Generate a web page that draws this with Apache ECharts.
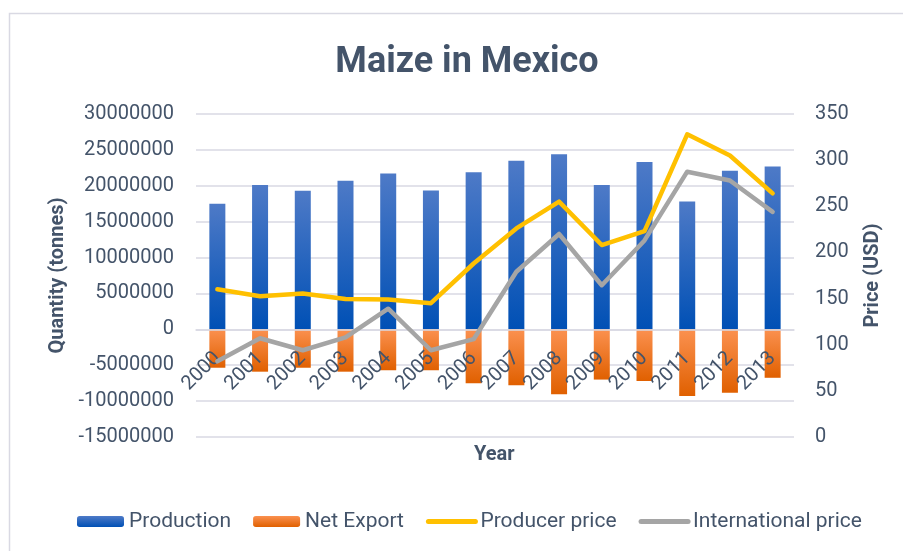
<!DOCTYPE html>
<html>
<head>
<meta charset="utf-8">
<title>Maize in Mexico</title>
<script src="https://cdn.jsdelivr.net/npm/echarts@6/dist/echarts.min.js"></script>
<style>
  html, body { margin: 0; padding: 0; background: #ffffff; }
  #chart { width: 903px; height: 551px; }
</style>
</head>
<body>
<div id="chart"></div>
<script>
// Maize production, net export (tonnes) and prices (USD) in Mexico
const years = ['2000', '2001', '2002', '2003', '2004', '2005', '2006',
               '2007', '2008', '2009', '2010', '2011', '2012', '2013'];
const production = [17500000, 20100000, 19300000, 20700000, 21700000, 19350000, 21900000,
                    23500000, 24400000, 20100000, 23300000, 17800000, 22100000, 22700000];
const netExport = [-5350000, -5900000, -5350000, -5900000, -5700000, -5700000, -7500000,
                   -7800000, -9050000, -7000000, -7200000, -9300000, -8850000, -6750000];
const producerPrice = [160, 152.5, 155.5, 149.5, 149, 145, 188,
                       226, 255, 208, 223, 328, 305, 264];
const internationalPrice = [82, 107, 94, 108, 139, 94, 106,
                            179, 220, 164.5, 213, 287.5, 278, 244];
const quantityTicks = { min: -15000000, max: 30000000, step: 5000000 };
const priceTicks = { min: 0, max: 350, step: 50 };

const FONT = 'Roboto';
const TEXT = '#44546a';
const GRID_LINE = '#d9d9e3';

const CHART_H = 551;
const GRID = { left: 196, right: 109, top: 114, bottom: 114 };
// the category axis sits on the zero line of the quantity axis
const plotH = CHART_H - GRID.top - GRID.bottom;
const zeroOffset = -plotH * (0 - quantityTicks.min) / (quantityTicks.max - quantityTicks.min);

const chart = echarts.init(document.getElementById('chart'), null, { renderer: 'canvas' });

const lineLegendItem = (name, color) => ({
  name: name,
  itemStyle: { opacity: 0 },
  lineStyle: { color: color, width: 5, cap: 'round' }
});

chart.setOption({
  animation: false,
  backgroundColor: '#ffffff',
  textStyle: { fontFamily: FONT },
  title: {
    text: 'Maize in Mexico',
    left: 462,
    textAlign: 'center',
    top: 40,
    textStyle: { fontFamily: FONT, fontSize: 36, fontWeight: 'bold', color: TEXT }
  },
  graphic: [
    {
      type: 'rect',
      shape: { x: 9.5, y: 13.5, width: 1000, height: 1000 },
      style: { fill: 'none', stroke: GRID_LINE, lineWidth: 1.5 },
      silent: true,
      z: -10
    },
    {
      type: 'text',
      left: 474,
      top: 445,
      style: { text: 'Year', font: 'bold 20px ' + FONT, fill: TEXT },
      silent: true
    }
  ],
  legend: {
    left: 77,
    top: 511,
    padding: 0,
    itemWidth: 47,
    itemHeight: 11,
    itemGap: 22,
    textStyle: { fontFamily: FONT, fontSize: 21, color: TEXT },
    data: ['Production', 'Net Export',
           lineLegendItem('Producer price', '#ffc000'),
           lineLegendItem('International price', '#a5a5a5')]
  },
  grid: { left: GRID.left, right: GRID.right, top: GRID.top, bottom: GRID.bottom, containLabel: false },
  xAxis: {
    type: 'category',
    data: years,
    offset: zeroOffset,
    z: 2,
    axisLine: { show: true, onZero: false, lineStyle: { color: GRID_LINE, width: 1.5 } },
    axisTick: { show: false },
    axisLabel: { rotate: 45, margin: 26, fontFamily: FONT, fontSize: 20, color: TEXT, interval: 0 }
  },
  yAxis: [
    {
      type: 'value',
      min: quantityTicks.min,
      max: quantityTicks.max,
      interval: quantityTicks.step,
      name: 'Quantity (tonnes)',
      nameLocation: 'middle',
      nameRotate: 90,
      nameGap: 120,
      nameTextStyle: { fontFamily: FONT, fontSize: 20, fontWeight: 'bold', color: TEXT },
      axisLine: { show: false },
      axisTick: { show: false },
      axisLabel: { margin: 22, fontFamily: FONT, fontSize: 20, color: TEXT, formatter: v => String(v) },
      splitLine: { show: true, lineStyle: { color: GRID_LINE, width: 1.5 } }
    },
    {
      type: 'value',
      position: 'right',
      min: priceTicks.min,
      max: priceTicks.max,
      interval: priceTicks.step,
      name: 'Price (USD)',
      nameLocation: 'middle',
      nameRotate: 90,
      nameGap: 69,
      nameTextStyle: { fontFamily: FONT, fontSize: 20, fontWeight: 'bold', color: TEXT },
      axisLine: { show: false },
      axisTick: { show: false },
      axisLabel: { margin: 21, fontFamily: FONT, fontSize: 20, color: TEXT, formatter: v => String(v) },
      splitLine: { show: false }
    }
  ],
  series: [
    {
      name: 'Production',
      type: 'bar',
      stack: 'quantity',
      barWidth: 16,
      z: 1,
      data: production,
      itemStyle: {
        color: new echarts.graphic.LinearGradient(0, 0, 0, 1, [
          { offset: 0, color: '#4e7ac7' },
          { offset: 1, color: '#0050b5' }
        ])
      }
    },
    {
      name: 'Net Export',
      type: 'bar',
      stack: 'quantity',
      barWidth: 16,
      z: 1,
      data: netExport,
      itemStyle: {
        color: new echarts.graphic.LinearGradient(0, 0, 0, 1, [
          { offset: 0, color: '#fb9150' },
          { offset: 1, color: '#e06000' }
        ])
      }
    },
    {
      name: 'Producer price',
      type: 'line',
      yAxisIndex: 1,
      data: producerPrice,
      symbol: 'none',
      itemStyle: { color: '#ffc000' },
      lineStyle: { color: '#ffc000', width: 4.5, join: 'round', cap: 'round' },
      z: 3
    },
    {
      name: 'International price',
      type: 'line',
      yAxisIndex: 1,
      data: internationalPrice,
      symbol: 'none',
      itemStyle: { color: '#a5a5a5' },
      lineStyle: { color: '#a5a5a5', width: 4.5, join: 'round', cap: 'round' },
      z: 4
    }
  ]
});
</script>
</body>
</html>
